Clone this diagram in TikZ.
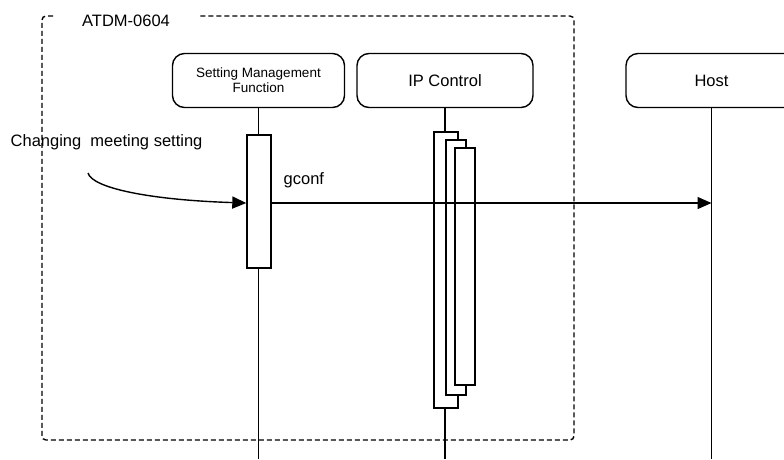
\documentclass[tikz,border=0pt]{standalone}
\usepackage{fontspec}
\setmainfont{Liberation Sans}
\usepackage{tikz}
\usetikzlibrary{arrows.meta}

\tikzset{
  lifebox/.style={draw, rounded corners=12pt, minimum height=54pt, inner sep=0pt, align=center, line width=1.4pt},
  actbar/.style={draw, fill=white, inner sep=0pt, line width=1.4pt},
  msg/.style={-{Triangle[length=14pt,width=12pt]}, line width=1.4pt},
  lbl/.style={anchor=base west, inner sep=0pt},
}

\begin{document}
\begin{tikzpicture}[x=1pt, y=-1pt, line width=1.4pt, font=\fontsize{16.5}{19}\selectfont]
                        \useasboundingbox (0,0) rectangle (784,459);
                        \clip (0,0) rectangle (784,459);
                        % frame
                        \draw[dash pattern=on 5pt off 3pt, rounded corners=4pt] (53,16) -- (42,16) -- (42,440) -- (574,440) -- (574,16) -- (198,16);
                        \node[lbl] (frame) at (81.5,26) {ATDM-0604};
                        % lifelines
                        \node[lifebox, minimum width=172pt, font=\fontsize{13.5}{15}\selectfont] (smf) at (258.5,80.5) {Setting Management\\Function};
                        \node[lifebox, minimum width=176pt] (ipc) at (445,80.5) {IP Control};
                        \node[lifebox, minimum width=171pt] (host) at (711.5,80.5) {Host};
                        \foreach \n in {smf,ipc,host}
                        \draw (\n.south) -- (\n.south |- 0,459);
                        % activations
                        \node[actbar, minimum width=24pt, minimum height=133pt] (smfbar) at (259,201.5) {};
                        \foreach \xa/\ya/\xb/\yb in {434/132/458/408, 446/140/466/395, 455/148/475/385}
                        \filldraw[fill=white] (\xa,\ya) rectangle (\xb,\yb);
                        % messages
                        \coordinate (trig) at (88,173);
                        \node[lbl] (triglabel) at (10,146) {Changing~ meeting setting};
                        \draw[msg] (trig) .. controls (92,188) and (150,200) .. (smfbar.west |- 0,203);
                        \draw[msg] (smfbar.east |- 0,203) -- (host.south |- 0,203);
                        \node[lbl] (gconf) at (283,184) {gconf};
                    \end{tikzpicture}
\end{document}
